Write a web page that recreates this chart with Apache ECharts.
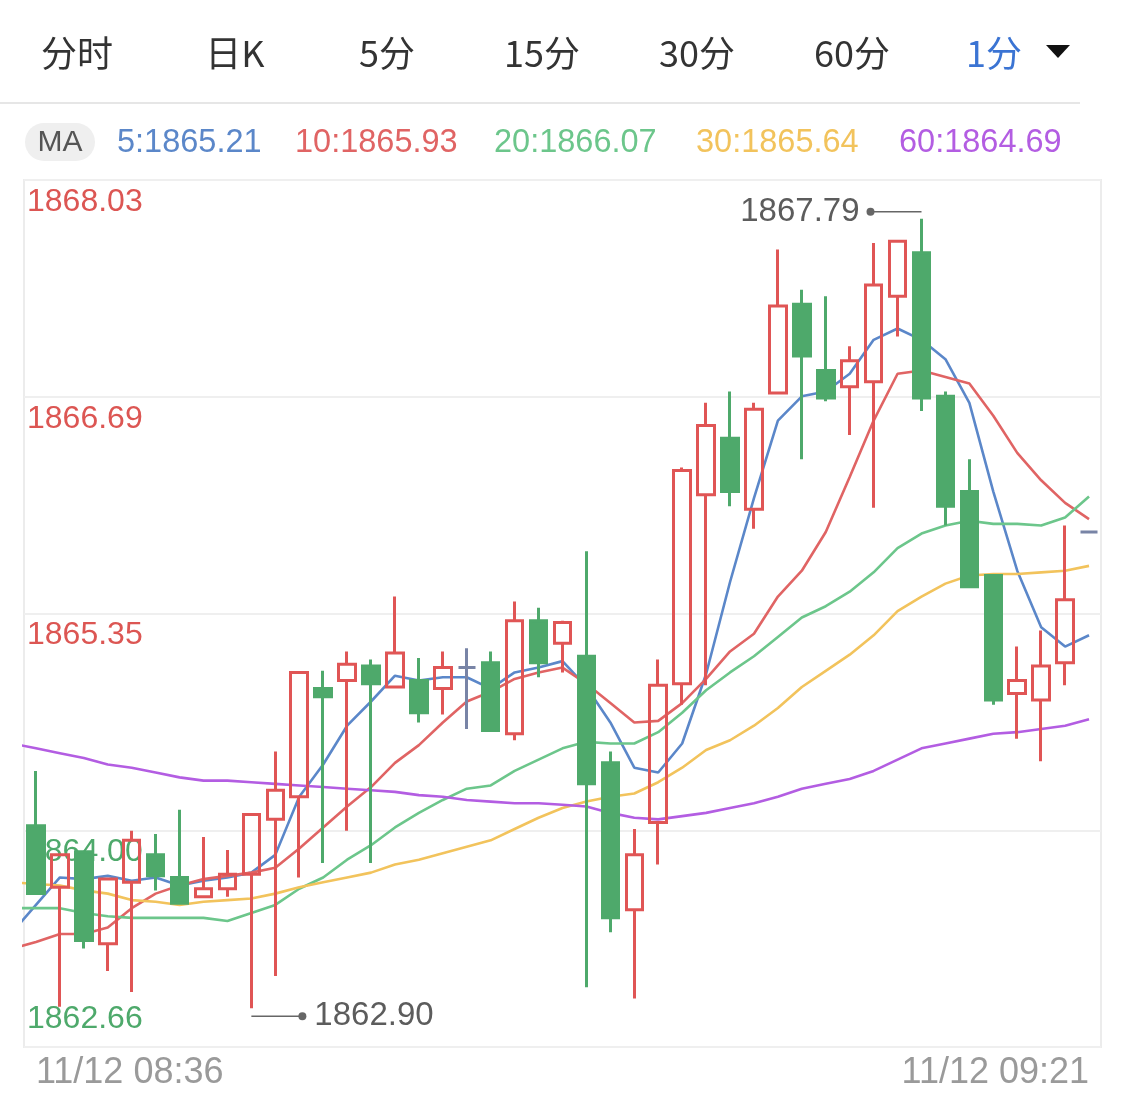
<!DOCTYPE html>
<html><head><meta charset="utf-8">
<script src="https://cdn.jsdelivr.net/npm/echarts@6.0.0/dist/echarts.min.js"></script>
<style>html,body{margin:0;padding:0;background:#fff;}#c{width:1125px;height:1105px;}</style>
</head><body><div id="c"></div>
<script>
// ---------- data ----------
// first category (08:35) lies just left of the visible window; only the MA lines reach into it
const times = ['11/12 08:35',
 '11/12 08:36','11/12 08:37','11/12 08:38','11/12 08:39','11/12 08:40','11/12 08:41','11/12 08:42','11/12 08:43','11/12 08:44','11/12 08:45',
 '11/12 08:46','11/12 08:47','11/12 08:48','11/12 08:49','11/12 08:50','11/12 08:51','11/12 08:52','11/12 08:53','11/12 08:54','11/12 08:55',
 '11/12 08:56','11/12 08:57','11/12 08:58','11/12 08:59','11/12 09:00','11/12 09:01','11/12 09:02','11/12 09:03','11/12 09:04','11/12 09:05',
 '11/12 09:06','11/12 09:07','11/12 09:08','11/12 09:09','11/12 09:10','11/12 09:11','11/12 09:12','11/12 09:13','11/12 09:14','11/12 09:15',
 '11/12 09:16','11/12 09:17','11/12 09:18','11/12 09:19','11/12 09:21'];

const opens  = [1864.03,1863.65,1863.87,1863.30,1863.68,1863.85,1863.71,1863.59,1863.64,1863.73,
 1864.07,1864.21,1864.88,1864.93,1865.02,1864.89,1864.93,1864.88,1865.01,1865.04,
 1864.60,1865.30,1865.16,1865.08,1864.42,1863.51,1864.05,1864.91,1866.08,1866.43,
 1865.99,1866.71,1867.26,1866.85,1866.75,1866.78,1867.31,1867.58,1866.69,1866.10,
 1865.58,1864.85,1864.81,1865.04,1865.85];
const closes = [1863.61,1863.85,1863.32,1863.70,1863.94,1863.72,1863.55,1863.64,1863.73,1864.10,
 1864.25,1864.98,1864.83,1865.03,1864.91,1865.10,1864.73,1865.01,1865.01,1864.62,
 1865.30,1865.04,1865.29,1864.29,1863.46,1863.85,1864.90,1866.23,1866.51,1866.10,
 1866.61,1867.25,1866.94,1866.68,1866.91,1867.38,1867.65,1866.68,1866.01,1865.51,
 1864.81,1864.93,1865.02,1865.43,1865.85];
const highs  = [1864.37,1863.85,1863.87,1863.70,1864.00,1863.98,1864.13,1863.96,1863.88,1864.10,
 1864.49,1864.98,1864.99,1865.11,1865.06,1865.45,1865.07,1865.11,1865.13,1865.11,
 1865.42,1865.38,1865.30,1865.73,1864.49,1864.01,1865.06,1866.25,1866.65,1866.72,
 1866.65,1867.60,1867.35,1867.31,1867.00,1867.64,1867.65,1867.79,1866.72,1866.30,
 1865.58,1865.14,1865.24,1865.89,1865.85];
const lows   = [1863.61,1862.91,1863.27,1863.13,1863.00,1863.63,1863.55,1863.59,1863.59,1862.90,
 1863.10,1863.71,1863.80,1864.00,1863.80,1864.89,1864.67,1864.72,1864.63,1864.62,
 1864.56,1864.95,1864.98,1863.03,1863.37,1862.96,1863.79,1864.78,1864.90,1866.01,
 1865.87,1866.71,1866.30,1866.66,1866.45,1866.00,1867.06,1866.60,1865.89,1865.51,
 1864.78,1864.57,1864.43,1864.90,1865.85];

const ma5  = [1863.37,1863.54,1863.71,1863.70,1863.72,1863.69,1863.71,1863.66,1863.69,1863.71,1863.74,
 1863.85,1864.21,1864.41,1864.65,1864.80,1864.96,1864.93,1864.95,1864.95,1864.88,
 1864.98,1865.01,1865.05,1864.89,1864.67,1864.39,1864.36,1864.54,1864.97,1865.54,
 1866.06,1866.54,1866.69,1866.72,1866.83,1867.04,1867.11,1867.04,1866.92,1866.65,
 1866.10,1865.61,1865.26,1865.14,1865.21];
const ma10 = [1863.27,1863.31,1863.36,1863.36,1863.40,1863.52,1863.61,1863.66,1863.70,1863.72,1863.74,
 1863.77,1863.89,1864.02,1864.15,1864.27,1864.42,1864.53,1864.67,1864.80,1864.86,
 1864.94,1864.98,1865.01,1864.91,1864.79,1864.67,1864.68,1864.79,1864.94,1865.11,
 1865.22,1865.45,1865.61,1865.85,1866.19,1866.54,1866.83,1866.85,1866.81,1866.77,
 1866.57,1866.34,1866.17,1866.03,1865.93];
const ma20 = [1863.52,1863.52,1863.52,1863.49,1863.47,1863.46,1863.46,1863.46,1863.46,1863.44,1863.49,
 1863.54,1863.64,1863.71,1863.82,1863.91,1864.02,1864.11,1864.19,1864.26,1864.28,
 1864.37,1864.44,1864.51,1864.55,1864.54,1864.54,1864.61,1864.73,1864.87,1864.98,
 1865.08,1865.20,1865.32,1865.39,1865.48,1865.60,1865.75,1865.84,1865.89,1865.92,
 1865.90,1865.90,1865.89,1865.94,1866.07];
const ma30 = [1863.68,1863.67,1863.66,1863.63,1863.61,1863.57,1863.56,1863.54,1863.56,1863.57,1863.58,
 1863.61,1863.65,1863.68,1863.71,1863.74,1863.79,1863.82,1863.86,1863.90,1863.94,
 1864.01,1864.08,1864.14,1864.18,1864.21,1864.23,1864.30,1864.39,1864.50,1864.56,
 1864.65,1864.76,1864.89,1864.99,1865.09,1865.21,1865.36,1865.45,1865.53,1865.58,
 1865.59,1865.59,1865.60,1865.61,1865.64];
const ma60 = [1864.54,1864.51,1864.48,1864.45,1864.41,1864.39,1864.36,1864.33,1864.31,1864.31,1864.30,
 1864.29,1864.28,1864.27,1864.26,1864.25,1864.24,1864.22,1864.21,1864.19,1864.18,
 1864.17,1864.17,1864.16,1864.15,1864.11,1864.08,1864.07,1864.09,1864.11,1864.14,
 1864.17,1864.21,1864.26,1864.29,1864.32,1864.37,1864.44,1864.51,1864.54,1864.57,
 1864.60,1864.61,1864.63,1864.65,1864.69];

const maPeriods = [5, 10, 20, 30, 60];
const tabs = ['分时','日K','5分','15分','30分','60分','1分'];
const yTickLabels = ['1862.66','1864.00','1865.35','1866.69','1868.03'];
const yMin = 1862.66, yMax = 1868.03;

// ---------- styling ----------
const LAT = "'Liberation Sans', Arial, sans-serif";
const CJK = "'Noto Sans CJK SC', 'Noto Sans', sans-serif";
const RED = '#e05555', GREEN = '#4ea96b', DOJI = '#7884a6';
const maColors = ['#5b87c9', '#e06464', '#6cc68b', '#f2c35c', '#b35de2'];
const maSeries = [ma5, ma10, ma20, ma30, ma60];
const yInterval = (yMax - yMin) / 4;

const candleData = [['-','-','-','-']].concat(opens.map((o, i) => [o, closes[i], lows[i], highs[i]]));

let hiI = 0, loI = 0;
highs.forEach((h, i) => { if (h > highs[hiI]) hiI = i; });
lows.forEach((l, i) => { if (l < lows[loI]) loI = i; });
const markerData = [[hiI + 1, highs[hiI], 1], [loI + 1, lows[loI], -1]];

// ---------- header graphics ----------
const tabX = [77, 235, 387, 542, 697, 852, 994];
const graphics = [];
tabs.forEach((t, i) => graphics.push({
  type: 'text', x: tabX[i], y: 53, silent: true,
  style: { text: t, fill: i === tabs.length - 1 ? '#3b74d3' : '#333333', font: '36px ' + CJK,
           textAlign: 'center', textVerticalAlign: 'middle' }
}));
graphics.push({ type: 'polygon', silent: true, shape: { points: [[1046, 45], [1070, 45], [1058, 58]] }, style: { fill: '#111' } });
graphics.push({ type: 'rect', silent: true, shape: { x: 0, y: 102, width: 1080, height: 2 }, style: { fill: '#e6e6e6' } });
graphics.push({ type: 'rect', silent: true, shape: { x: 25, y: 123, width: 70, height: 38, r: 19 }, style: { fill: '#efefef' } });
graphics.push({ type: 'text', x: 60, y: 143, silent: true,
  style: { text: 'MA', fill: '#555', font: '30px ' + LAT, textAlign: 'center', textVerticalAlign: 'middle' } });
const maX = [117, 295, 494, 696, 899];
maPeriods.forEach((p, i) => graphics.push({
  type: 'text', x: maX[i], y: 143, silent: true,
  style: { text: p + ':' + maSeries[i][maSeries[i].length - 1].toFixed(2), fill: maColors[i],
           font: '32.5px ' + LAT, textAlign: 'left', textVerticalAlign: 'middle' }
}));

// ---------- chart ----------
const series = [];
maPeriods.forEach((p, i) => series.push({
  name: 'MA' + p, type: 'line', data: maSeries[i], symbol: 'none', smooth: false, z: 2,
  lineStyle: { color: maColors[i], width: 2.6 }, silent: true, clip: true
}));
series.push({
  type: 'candlestick', data: candleData, barWidth: 17, z: 3, clip: true,
  itemStyle: { color: 'transparent', color0: GREEN, borderColor: RED, borderColor0: GREEN,
               borderColorDoji: DOJI, borderWidth: 3 }
});
series.push({
  type: 'custom', z: 5, silent: true, data: markerData, encode: { x: 0, y: 1 }, clip: false,
  renderItem: function (params, api) {
    const p = api.coord([api.value(0), api.value(1)]);
    const dir = api.value(2);
    const y = dir > 0 ? p[1] - 7 : p[1] + 8;
    const xd = dir > 0 ? p[0] - 51 : p[0] + 51;
    const txt = Number(api.value(1)).toFixed(2);
    return { type: 'group', children: [
      { type: 'line', shape: { x1: p[0], y1: y, x2: xd, y2: y }, style: { stroke: '#666', lineWidth: 1.5 } },
      { type: 'circle', shape: { cx: xd, cy: y, r: 4 }, style: { fill: '#666' } },
      { type: 'text', x: dir > 0 ? xd - 11 : xd + 12, y: y,
        style: { text: txt, fill: '#5c5c5c', font: '33px ' + LAT,
                 textAlign: dir > 0 ? 'right' : 'left', textVerticalAlign: 'middle' } }
    ]};
  }
});

const chart = echarts.init(document.getElementById('c'), null, { renderer: 'canvas' });
chart.setOption({
  animation: false,
  backgroundColor: '#ffffff',
  graphic: graphics,
  grid: { left: 24, right: 24, top: 180, bottom: 58, show: true, borderColor: '#ececec', borderWidth: 2, backgroundColor: 'transparent' },
  xAxis: {
    type: 'category', data: times, boundaryGap: true, min: 1,
    axisLine: { show: false }, axisTick: { show: false }, splitLine: { show: false },
    axisLabel: {
      color: '#9a9a9a', fontSize: 36, fontFamily: LAT, margin: 8,
      interval: function (i) { return i === 1 || i === times.length - 1; },
      alignMinLabel: 'left', alignMaxLabel: 'right'
    }
  },
  yAxis: {
    type: 'value', min: yMin, max: yMax, interval: yInterval, scale: true,
    axisLine: { show: false }, axisTick: { show: false },
    splitLine: { lineStyle: { color: '#efefef', width: 2 } },
    axisLabel: {
      inside: true, margin: 3, align: 'left', verticalAlign: 'middle',
      formatter: function (v) {
        const k = Math.round((v - yMin) / yInterval);
        const s = yTickLabels[k];
        if (k === 0) return '{gb|' + s + '}';
        if (k === 1) return '{gt|' + s + '}';
        return '{rt|' + s + '}';
      },
      rich: {
        rt: { color: '#dc5653', fontSize: 32, fontFamily: LAT, padding: [44, 0, 0, 0] },
        gt: { color: '#4ea96b', fontSize: 32, fontFamily: LAT, padding: [44, 0, 0, 0] },
        gb: { color: '#4ea96b', fontSize: 32, fontFamily: LAT, padding: [0, 0, 56, 0] }
      }
    }
  },
  series: series
});
</script>
</body></html>
